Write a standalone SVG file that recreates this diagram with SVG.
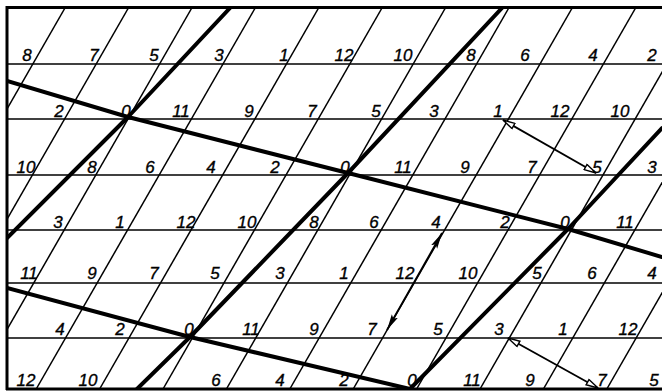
<svg xmlns="http://www.w3.org/2000/svg" width="662" height="392" viewBox="0 0 662 392">
<defs>
<style>
.thin{stroke:#000;stroke-width:1.5;fill:none}
.thick{stroke:#000;stroke-width:4;fill:none;stroke-linejoin:round;stroke-linecap:round}
.border{stroke:#000;stroke-width:3;fill:none}
.arr{stroke:#000;stroke-width:1.8;fill:none}
text{font-family:"Liberation Sans",Arial,sans-serif;font-style:italic;font-size:17px;fill:#000;stroke:#000;stroke-width:0.35;text-anchor:middle}
</style>
<clipPath id="frame"><rect x="7" y="8" width="655" height="381"/></clipPath>
<marker id="open" viewBox="0 0 14 8" refX="13" refY="4" markerWidth="14" markerHeight="8" markerUnits="userSpaceOnUse" orient="auto-start-reverse">
<path d="M1,1 L13,4 L1,7 z" fill="#fff" stroke="#000" stroke-width="1.4"/>
</marker>
<marker id="solid" viewBox="0 0 16 8" refX="16" refY="4" markerWidth="16" markerHeight="8" markerUnits="userSpaceOnUse" orient="auto-start-reverse">
<path d="M0,0.5 L16,4 L0,7.5 L3,4 z" fill="#000"/>
</marker>
</defs>
<rect width="662" height="392" fill="#fff"/>
<g id="connectors">
<g id="grid" clip-path="url(#frame)">
<line class="thin" x1="7" y1="64" x2="662" y2="64"/>
<line class="thin" x1="7" y1="119" x2="662" y2="119"/>
<line class="thin" x1="7" y1="175" x2="662" y2="175"/>
<line class="thin" x1="7" y1="230" x2="662" y2="230"/>
<line class="thin" x1="7" y1="283" x2="662" y2="283"/>
<line class="thin" x1="7" y1="338" x2="662" y2="338"/>
<line class="thin" x1="65" y1="8" x2="-154" y2="389"/>
<line class="thin" x1="128.4" y1="8" x2="-90.6" y2="389"/>
<line class="thin" x1="191.8" y1="8" x2="-27.2" y2="389"/>
<line class="thin" x1="255.2" y1="8" x2="36.2" y2="389"/>
<line class="thin" x1="318.6" y1="8" x2="99.6" y2="389"/>
<line class="thin" x1="382" y1="8" x2="163" y2="389"/>
<line class="thin" x1="445.4" y1="8" x2="226.4" y2="389"/>
<line class="thin" x1="508.8" y1="8" x2="289.8" y2="389"/>
<line class="thin" x1="572.2" y1="8" x2="353.2" y2="389"/>
<line class="thin" x1="635.6" y1="8" x2="416.6" y2="389"/>
<line class="thin" x1="699" y1="8" x2="480" y2="389"/>
<line class="thin" x1="762.4" y1="8" x2="543.4" y2="389"/>
<line class="thin" x1="825.8" y1="8" x2="606.8" y2="389"/>
<line class="thin" x1="889.2" y1="8" x2="670.2" y2="389"/>
</g>
<g id="frame-lines">
<line class="border" x1="6" y1="7.5" x2="662" y2="7.5"/>
<line class="border" x1="7" y1="6" x2="7" y2="390"/>
<line class="border" x1="6" y1="389" x2="662" y2="389"/>
</g>
<g id="thick-lines" clip-path="url(#frame)">
<polyline class="thick" points="7,81 128,117 348,173 568,229 662,257"/>
<polyline class="thick" points="7,288 190,337 410,389"/>
<polyline class="thick" points="7,238 128,117 230,8"/>
<polyline class="thick" points="137,389 190,337 348,173 502,8"/>
<polyline class="thick" points="410,389 568,229 662,128"/>
</g>
<g id="arrows">
<line class="arr" x1="503" y1="120" x2="596" y2="173" marker-start="url(#open)" marker-end="url(#open)"/>
<line class="arr" x1="508" y1="338" x2="598" y2="388" marker-start="url(#open)" marker-end="url(#open)"/>
<line class="arr" x1="442" y1="233" x2="387" y2="330" marker-start="url(#solid)" marker-end="url(#solid)"/>
</g>
</g>
<g id="labels">
<g id="row1">
<text x="27" y="61">8</text><text x="94" y="61">7</text><text x="154" y="61">5</text><text x="219" y="61">3</text><text x="284" y="61">1</text><text x="344" y="61">12</text><text x="403" y="61">10</text><text x="471" y="61">8</text><text x="525" y="61">6</text><text x="593" y="61">4</text><text x="652" y="61">2</text>
</g>
<g id="row2">
<text x="59" y="117">2</text><text x="126" y="117">0</text><text x="181" y="117">11</text><text x="249" y="117">9</text><text x="312" y="117">7</text><text x="376" y="117">5</text><text x="434" y="117">3</text><text x="498" y="117">1</text><text x="560" y="117">12</text><text x="620" y="117">10</text>
</g>
<g id="row3">
<text x="26" y="173">10</text><text x="92" y="173">8</text><text x="150" y="173">6</text><text x="211" y="173">4</text><text x="275" y="173">2</text><text x="345" y="173">0</text><text x="403" y="173">11</text><text x="465" y="173">9</text><text x="532" y="173">7</text><text x="597" y="173">5</text><text x="652" y="173">3</text>
</g>
<g id="row4">
<text x="58" y="228">3</text><text x="120" y="228">1</text><text x="186" y="228">12</text><text x="247" y="228">10</text><text x="314" y="228">8</text><text x="374" y="228">6</text><text x="436" y="228">4</text><text x="505" y="228">2</text><text x="565" y="228">0</text><text x="625" y="228">11</text>
</g>
<g id="row5">
<text x="29" y="279">11</text><text x="92" y="279">9</text><text x="154" y="279">7</text><text x="215" y="279">5</text><text x="280" y="279">3</text><text x="344" y="279">1</text><text x="405" y="279">12</text><text x="468" y="279">10</text><text x="537" y="279">5</text><text x="592" y="279">6</text><text x="652" y="279">4</text>
</g>
<g id="row6">
<text x="60" y="335">4</text><text x="120" y="335">2</text><text x="189" y="335">0</text><text x="251" y="335">11</text><text x="314" y="335">9</text><text x="372" y="335">7</text><text x="438" y="335">5</text><text x="499" y="335">3</text><text x="563" y="335">1</text><text x="628" y="335">12</text>
</g>
<g id="row7">
<text x="26" y="386">12</text><text x="88" y="386">10</text><text x="216" y="386">6</text><text x="280" y="386">4</text><text x="344" y="386">2</text><text x="412" y="386">0</text><text x="472" y="386">11</text><text x="530" y="386">9</text><text x="602" y="386">7</text><text x="654" y="386">5</text>
</g>
</g>
</svg>
